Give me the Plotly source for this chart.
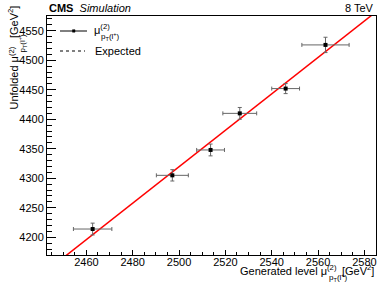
import plotly.graph_objects as go

# ---- data ----
gen_x = [2462.7, 2497.1, 2513.6, 2526.2, 2546.0, 2563.2]
gen_xerr = [8.3, 6.9, 6.0, 7.3, 6.0, 10.2]
unf_y = [4214, 4305, 4348, 4410, 4452, 4526]
unf_yerr = [10, 9.6, 10, 10, 8.5, 13]

fit_slope = 3.087
fit_intercept = -3397.9

x_range = [2443, 2585]
y_range = [4170, 4575]

FONT = "Liberation Sans, Arial, Helvetica, sans-serif"
MU = "μ<sup>(2)</sup>"
SUB = "p<sub>T</sub>(l<sup>+</sup>)"

fig = go.Figure()

fit_x = x_range
fit_y = [fit_slope * v + fit_intercept for v in fit_x]
fig.add_trace(go.Scatter(x=fit_x, y=fit_y, mode="lines",
                         line=dict(color="#ff0000", width=1.5),
                         showlegend=False, hoverinfo="skip"))

fig.add_trace(go.Scatter(
    x=gen_x, y=unf_y, mode="markers",
    marker=dict(color="black", size=4, symbol="square"),
    error_x=dict(type="data", array=gen_xerr, color="#666666", thickness=1, width=2),
    error_y=dict(type="data", array=unf_yerr, color="#666666", thickness=1, width=2),
    showlegend=False))

L, R, T, B = 47, 2, 16, 27
W, H = 378, 282
pw, ph = W - L - R, H - T - B

def px(xp):
    return (xp - L) / pw

def py(yp):
    return (H - B - yp) / ph

fig.update_layout(
    width=W, height=H,
    margin=dict(l=L, r=R, t=T, b=B),
    paper_bgcolor="white", plot_bgcolor="white",
    font=dict(family=FONT, size=11, color="black"),
    xaxis=dict(range=x_range, dtick=20, tick0=2460, ticks="inside", ticklen=5,
               tickcolor="black", showline=True, linecolor="black", linewidth=1,
               mirror=True, showgrid=False, zeroline=False,
               tickfont=dict(size=11), ticklabelstandoff=-3,
               minor=dict(dtick=5, tick0=2440, ticks="inside", ticklen=3, tickcolor="black")),
    yaxis=dict(range=y_range, dtick=50, tick0=4200, ticks="inside", ticklen=9,
               tickcolor="black", showline=True, linecolor="black", linewidth=1,
               mirror=True, showgrid=False, zeroline=False,
               tickfont=dict(size=11),
               minor=dict(dtick=10, tick0=4200, ticks="inside", ticklen=5, tickcolor="black")),
)

def a(x, y, text, xa="left", ya="middle", size=11, angle=0):
    return dict(x=px(x), y=py(y), xref="paper", yref="paper", xanchor=xa, yanchor=ya,
                text=text, showarrow=False, font=dict(size=size), textangle=angle)

ann = [
    a(47, 8, "<b>CMS</b>  <i>Simulation</i>"),
    a(376, 8, "8 TeV", xa="right"),
    # x title
    a(339, 270, "Generated level " + MU, xa="right"),
    a(327, 277, SUB, size=8),
    a(376, 270, "[GeV<sup>2</sup>]", xa="right"),
    # y title
    a(13, 45, "Unfolded " + MU, xa="center", ya="top", angle=-90),
    a(22, 32, SUB, xa="center", ya="top", size=8, angle=-90),
    a(13, 4, "[GeV<sup>2</sup>]", xa="center", ya="top", angle=-90),
    # legend
    a(92, 29, MU),
    a(99, 36, SUB, size=8),
    a(93, 51, "Expected"),
]
fig.update_layout(annotations=ann)

shapes = [
    dict(type="line", xref="paper", yref="paper", x0=px(60), x1=px(87), y0=py(31), y1=py(31),
         line=dict(color="black", width=1)),
    dict(type="rect", xref="paper", yref="paper", x0=px(72.5), x1=px(75), y0=py(29.7), y1=py(32.2),
         line=dict(color="black", width=0.5), fillcolor="black"),
    dict(type="line", xref="paper", yref="paper", x0=px(60), x1=px(85), y0=py(51), y1=py(51),
         line=dict(color="black", width=1, dash="dot")),
]
fig.update_layout(shapes=shapes)

fig.write_html("out.html", config={"displayModeBar": False},
               post_script="document.body.style.margin='0';document.body.style.overflow='hidden';")
